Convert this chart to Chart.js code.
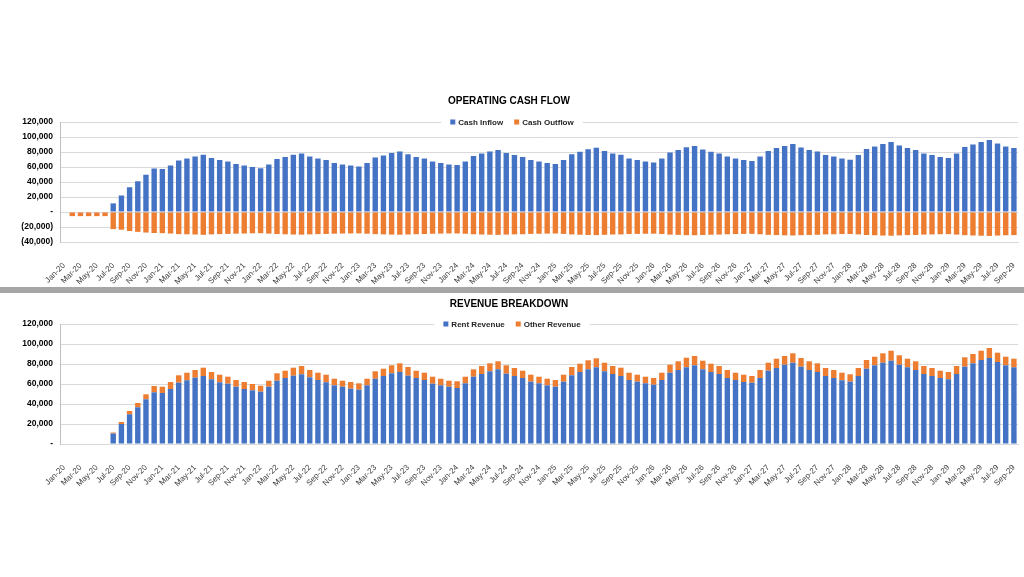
<!DOCTYPE html>
<html>
<head>
<meta charset="utf-8">
<script src="https://cdn.jsdelivr.net/npm/chart.js@4.4.1/dist/chart.umd.min.js"></script>
<style>
    html, body { margin: 0; padding: 0; background: #ffffff; }
    body { width: 1024px; height: 577px; position: relative; overflow: hidden; }
    .panel { position: absolute; left: 0; width: 1024px; }
    #topPanel { top: 0; height: 287px; }
    #bottomPanel { top: 293px; height: 284px; }
    #divider { position: absolute; left: 0; top: 287px; width: 1024px; height: 6px; background: #a6a6a6; }
</style>
</head>
<body>
<div class="panel" id="topPanel"><canvas id="cashFlowChart"></canvas></div>
<div id="divider"></div>
<div class="panel" id="bottomPanel"><canvas id="revenueChart"></canvas></div>

<script>
// Months Jan-20 .. Sep-29
const months = [
    'Jan-20', 'Feb-20', 'Mar-20', 'Apr-20', 'May-20', 'Jun-20', 'Jul-20', 'Aug-20', 'Sep-20', 'Oct-20', 'Nov-20', 'Dec-20',
    'Jan-21', 'Feb-21', 'Mar-21', 'Apr-21', 'May-21', 'Jun-21', 'Jul-21', 'Aug-21', 'Sep-21', 'Oct-21', 'Nov-21', 'Dec-21',
    'Jan-22', 'Feb-22', 'Mar-22', 'Apr-22', 'May-22', 'Jun-22', 'Jul-22', 'Aug-22', 'Sep-22', 'Oct-22', 'Nov-22', 'Dec-22',
    'Jan-23', 'Feb-23', 'Mar-23', 'Apr-23', 'May-23', 'Jun-23', 'Jul-23', 'Aug-23', 'Sep-23', 'Oct-23', 'Nov-23', 'Dec-23',
    'Jan-24', 'Feb-24', 'Mar-24', 'Apr-24', 'May-24', 'Jun-24', 'Jul-24', 'Aug-24', 'Sep-24', 'Oct-24', 'Nov-24', 'Dec-24',
    'Jan-25', 'Feb-25', 'Mar-25', 'Apr-25', 'May-25', 'Jun-25', 'Jul-25', 'Aug-25', 'Sep-25', 'Oct-25', 'Nov-25', 'Dec-25',
    'Jan-26', 'Feb-26', 'Mar-26', 'Apr-26', 'May-26', 'Jun-26', 'Jul-26', 'Aug-26', 'Sep-26', 'Oct-26', 'Nov-26', 'Dec-26',
    'Jan-27', 'Feb-27', 'Mar-27', 'Apr-27', 'May-27', 'Jun-27', 'Jul-27', 'Aug-27', 'Sep-27', 'Oct-27', 'Nov-27', 'Dec-27',
    'Jan-28', 'Feb-28', 'Mar-28', 'Apr-28', 'May-28', 'Jun-28', 'Jul-28', 'Aug-28', 'Sep-28', 'Oct-28', 'Nov-28', 'Dec-28',
    'Jan-29', 'Feb-29', 'Mar-29', 'Apr-29', 'May-29', 'Jun-29', 'Jul-29', 'Aug-29', 'Sep-29'
];

const cashInflow = [
    0, 0, 0, 0, 0, 0, 11500, 22000, 33000, 41000, 49700, 58000,
    57300, 62000, 68700, 71300, 74000, 76300, 72000, 69300, 67300, 64000, 62000, 60000,
    58300, 63300, 70700, 73300, 76300, 78000, 74000, 71300, 69300, 65300, 63300, 62000,
    60700, 65300, 72700, 75300, 78700, 80700, 77000, 73300, 71300, 67300, 65300, 63300,
    62700, 67300, 74700, 78000, 80700, 82700, 78700, 76000, 73300, 69300, 67300, 65300,
    64000, 69300, 77000, 80300, 83700, 85700, 81300, 78000, 76300, 71300, 69300, 67300,
    66000, 71300, 79300, 82700, 86300, 88000, 83300, 80300, 78000, 74000, 71300, 69300,
    68000, 74000, 81300, 85300, 88000, 90700, 86000, 82700, 80700, 76000, 74000, 71300,
    69700, 76000, 84000, 87300, 90700, 93300, 88700, 85300, 82700, 78000, 76000, 73300,
    72000, 78000, 86700, 90000, 93300, 96000, 91300, 87300, 85300
];

const cashOutflow = [
    0, -5500, -5500, -5500, -5500, -5500, -22800, -23600, -25300, -26500, -27400, -28000,
    -28200, -28700, -29500, -29700, -30000, -30400, -29800, -29500, -29200, -28900, -28700, -28400,
    -28300, -28800, -29400, -29700, -30000, -30200, -29800, -29500, -29300, -28900, -28700, -28600,
    -28500, -28900, -29500, -29800, -30100, -30300, -30000, -29600, -29400, -29000, -28800, -28600,
    -28600, -29000, -29700, -30000, -30300, -30500, -30100, -29800, -29600, -29200, -29000, -28800,
    -28700, -29200, -29900, -30300, -30600, -30800, -30400, -30000, -29900, -29400, -29200, -29000,
    -28900, -29400, -30200, -30500, -30900, -31000, -30600, -30300, -30100, -29700, -29400, -29200,
    -29100, -29700, -30400, -30800, -31100, -31300, -30900, -30600, -30400, -29900, -29700, -29400,
    -29300, -29900, -30700, -31000, -31400, -31600, -31200, -30800, -30600, -30100, -29900, -29600,
    -29500, -30100, -30900, -31300, -31600, -31900, -31400, -31000, -30800
];

const rentRevenue = [
    0, 0, 0, 0, 0, 0, 10500, 20000, 29700, 36700, 44700, 51700,
    51000, 55000, 61300, 63700, 66300, 68000, 64700, 61700, 60300, 57300, 55000, 53700,
    52300, 57300, 63300, 66000, 68300, 69700, 66700, 64000, 61700, 58700, 57300, 55300,
    54300, 58700, 65300, 68000, 70700, 72000, 68300, 66000, 64000, 60300, 58700, 57300,
    56000, 60700, 67300, 70000, 72700, 74700, 70300, 68000, 66000, 62300, 60700, 58700,
    57300, 62300, 68700, 72000, 74700, 76700, 72700, 70000, 68000, 64000, 62300, 60700,
    59300, 64000, 71300, 74000, 76700, 78700, 74700, 72000, 70000, 66000, 64000, 62000,
    61300, 66000, 73300, 76000, 79300, 81300, 77300, 74000, 72000, 68000, 66000, 63700,
    62300, 68000, 75300, 78700, 81300, 83300, 79300, 76700, 74000, 70000, 68000, 66000,
    64700, 70000, 77300, 80700, 84000, 86000, 82000, 78700, 76700
];

const otherRevenue = [
    0, 0, 0, 0, 0, 0, 1000, 2000, 3300, 4300, 5000, 6300,
    6300, 7000, 7400, 7600, 7700, 8300, 7300, 7600, 7000, 6700, 7000, 6300,
    6000, 6000, 7400, 7300, 8000, 8300, 7300, 7300, 7600, 6600, 6000, 6700,
    6400, 6600, 7400, 7300, 8000, 8700, 8700, 7300, 7300, 7000, 6600, 6000,
    6700, 6600, 7400, 8000, 8000, 8000, 8400, 8000, 7300, 7000, 6600, 6600,
    6700, 7000, 8300, 8300, 9000, 9000, 8600, 8000, 8300, 7300, 7000, 6600,
    6700, 7300, 8000, 8700, 9600, 9300, 8600, 8300, 8000, 8000, 7300, 7300,
    6700, 8000, 8000, 9300, 8700, 9400, 8700, 8700, 8700, 8000, 8000, 7600,
    7400, 8000, 8700, 8600, 9400, 10000, 9400, 8600, 8700, 8000, 8000, 7300,
    7300, 8000, 9400, 9300, 9300, 10000, 9300, 8600, 8600
];

const BLUE = '#4472c4';
const ORANGE = '#ed7d31';
const GRID = '#d9d9d9';
const FONT = "'Liberation Sans', Arial, sans-serif";

// Excel style number format: "-" for zero, brackets for negatives
function formatTick(value) {
    if (value === 0) return '-';
    const s = Math.abs(value).toLocaleString('en-US');
    return value < 0 ? '(' + s + ')' : s;
}

// Legend drawn over the top gridline on a white patch
const centerLegend = {
    id: 'centerLegend',
    afterDraw(chart) {
        const ctx = chart.ctx;
        const y = chart.chartArea.top;
        const box = 5, textGap = 3, itemGap = 11;
        ctx.save();
        ctx.font = 'bold 8px ' + FONT;
        const items = chart.data.datasets.map(ds => ({
            text: ds.label,
            color: ds.backgroundColor,
            w: ctx.measureText(ds.label).width
        }));
        let total = items.reduce((sum, it) => sum + box + textGap + it.w, 0) + itemGap * (items.length - 1);
        let x = chart.width / 2 - total / 2;
        ctx.fillStyle = '#ffffff';
        ctx.fillRect(x - 9, y - 5, total + 18, 10);
        ctx.textBaseline = 'middle';
        ctx.textAlign = 'left';
        items.forEach(it => {
            ctx.fillStyle = it.color;
            ctx.fillRect(x, y - box / 2, box, box);
            x += box + textGap;
            ctx.fillStyle = '#262626';
            ctx.fillText(it.text, x, y + 0.5);
            x += it.w + itemGap;
        });
        ctx.restore();
    }
};

function buildOptions(title, yMin, titlePad, xHeight) {
    return {
        responsive: true,
        maintainAspectRatio: false,
        animation: false,
        layout: { padding: { left: 0, right: 6, top: 0, bottom: 0 } },
        plugins: {
            legend: { display: false },
            tooltip: { enabled: false },
            title: {
                display: true,
                text: title,
                color: '#000000',
                font: { family: FONT, size: 10, weight: 'bold' },
                padding: titlePad
            }
        },
        scales: {
            x: {
                stacked: true,
                grid: { display: false, drawTicks: false },
                border: { display: true, color: GRID },
                ticks: {
                    autoSkip: false,
                    maxRotation: 45,
                    minRotation: 45,
                    padding: 19,
                    color: '#404040',
                    font: { family: FONT, size: 8 },
                    callback: function (val, i) {
                        return i % 2 === 0 ? this.getLabelForValue(val) : '';
                    }
                },
                afterFit(scale) {
                    scale.height = xHeight;
                    // rotated labels should not shrink the plot area
                    scale.paddingLeft = 0;
                    scale.paddingRight = 0;
                }
            },
            y: {
                stacked: true,
                min: yMin,
                max: 120000,
                grid: { color: GRID, drawTicks: false },
                border: { display: true, color: '#bfbfbf' },
                ticks: {
                    stepSize: 20000,
                    padding: 7,
                    color: '#000000',
                    font: { family: FONT, size: 8.5, weight: 'bold' },
                    callback: (v) => formatTick(v)
                },
                afterFit(scale) { scale.width = 60; }
            }
        }
    };
}

function barSet(label, data, color) {
    return {
        label: label,
        data: data,
        backgroundColor: color,
        borderWidth: 0,
        categoryPercentage: 1.0,
        barPercentage: 0.66
    };
}

new Chart(document.getElementById('cashFlowChart'), {
    type: 'bar',
    data: {
        labels: months,
        datasets: [
            barSet('Cash Inflow', cashInflow, BLUE),
            barSet('Cash Outflow', cashOutflow, ORANGE)
        ]
    },
    options: buildOptions('OPERATING CASH FLOW', -40000, { top: 95, bottom: 15 }, 45),
    plugins: [centerLegend]
});

new Chart(document.getElementById('revenueChart'), {
    type: 'bar',
    data: {
        labels: months,
        datasets: [
            barSet('Rent Revenue', rentRevenue, BLUE),
            barSet('Other Revenue', otherRevenue, ORANGE)
        ]
    },
    options: buildOptions('REVENUE BREAKDOWN', 0, { top: 5, bottom: 14 }, 133),
    plugins: [centerLegend]
});
</script>
</body>
</html>
